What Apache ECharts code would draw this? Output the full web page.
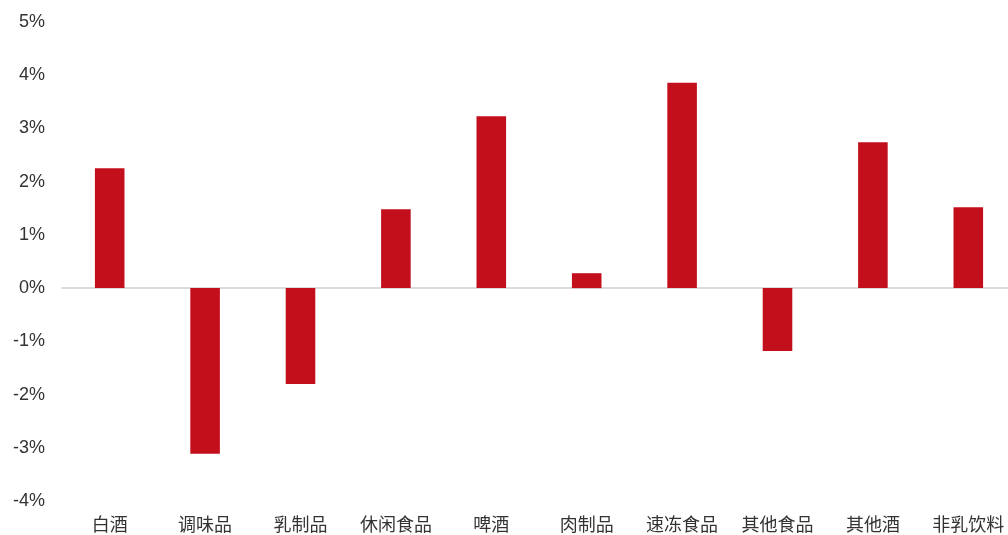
<!DOCTYPE html>
<html>
<head>
<meta charset="utf-8">
<script src="https://cdn.jsdelivr.net/npm/echarts@6/dist/echarts.min.js"></script>
<style>html,body{margin:0;padding:0;background:#fff;}#c{width:1008px;height:535px;}</style>
</head>
<body>
<div id="c"></div>
<script>
const categories = ['白酒','调味品','乳制品','休闲食品','啤酒','肉制品','速冻食品','其他食品','其他酒','非乳饮料'];
const values = [2.25, -3.11, -1.80, 1.48, 3.23, 0.28, 3.86, -1.18, 2.74, 1.52];
const yMin = -4, yMax = 5, yStep = 1;

const chart = echarts.init(document.getElementById('c'));
chart.setOption({
  animation: false,
  grid: {left: 62, width: 954, top: 22, bottom: 34, containLabel: false, outerBoundsMode: 'none'},
  xAxis: [{
    type: 'category', data: categories, position: 'bottom',
    axisLine: {show: false, onZero: false}, axisTick: {show: false},
    axisLabel: {margin: 14, fontSize: 18, color: '#333', fontFamily: 'Noto Sans CJK SC'}
  }, {
    type: 'category', data: categories, position: 'bottom',
    axisLine: {show: true, onZero: true, lineStyle: {color: '#d0d0d0', width: 1.5}},
    axisTick: {show: false}, axisLabel: {show: false}
  }],
  yAxis: {
    type: 'value', min: yMin, max: yMax, interval: yStep,
    axisLine: {show: false}, axisTick: {show: false}, splitLine: {show: false},
    axisLabel: {formatter: v => v + '%', fontSize: 18, color: '#333', margin: 17, fontFamily: 'Liberation Sans'}
  },
  series: [{
    type: 'bar', data: values, xAxisIndex: 0, barWidth: '31%',
    itemStyle: {color: '#c30f1c'}
  }]
});
</script>
</body>
</html>
